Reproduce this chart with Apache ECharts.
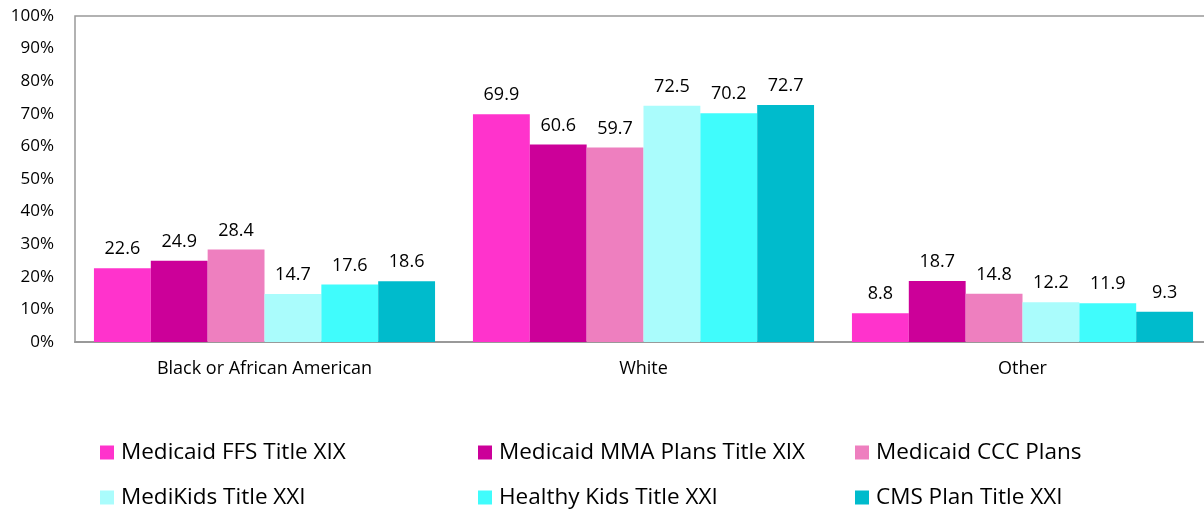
<!DOCTYPE html>
<html><head><meta charset="utf-8">
<script src="https://cdn.jsdelivr.net/npm/echarts@6/dist/echarts.min.js"></script>
<style>html,body{margin:0;padding:0;background:#fff}#c{width:1204px;height:513px}</style>
</head><body><div id="c"></div>
<script>
const categories = ['Black or African American', 'White', 'Other'];
const seriesNames = ['Medicaid FFS Title XIX', 'Medicaid MMA Plans Title XIX', 'Medicaid CCC Plans', 'MediKids Title XXI', 'Healthy Kids Title XXI', 'CMS Plan Title XXI'];
const ffs = [22.6, 69.9, 8.8];
const mma = [24.9, 60.6, 18.7];
const ccc = [28.4, 59.7, 14.8];
const medikids = [14.7, 72.5, 12.2];
const healthyKids = [17.6, 70.2, 11.9];
const cmsPlan = [18.6, 72.7, 9.3];
const yTicks = [0, 10, 20, 30, 40, 50, 60, 70, 80, 90, 100];

const colors = ['#FF33CC', '#CC0099', '#EE7FBF', '#AAFCFC', '#40FCFC', '#00BBCC'];
const seriesData = [ffs, mma, ccc, medikids, healthyKids, cmsPlan];
const font = '"Open Sans", sans-serif';

const chart = echarts.init(document.getElementById('c'));
const legendLefts = [95, 473, 850];
const legendTops = [436, 481];
const legends = seriesNames.map((n, i) => ({
  data: [n],
  left: legendLefts[i % 3], top: legendTops[Math.floor(i / 3)],
  itemWidth: 14, itemHeight: 14, icon: 'rect', itemGap: 0,
  textStyle: { fontFamily: font, fontSize: 22.5, color: '#000', padding: [0, 0, 0, 2] }
}));
chart.setOption({
  animation: false,
  color: colors,
  grid: { left: 75, width: 1137, top: 16, bottom: 171, show: true, borderColor: '#999', borderWidth: 1.5, outerBoundsMode: 'none' },
  legend: legends,
  xAxis: {
    type: 'category', data: categories,
    axisLine: { lineStyle: { color: '#999', width: 2 } },
    axisTick: { show: false },
    axisLabel: { fontFamily: font, fontSize: 18, color: '#000', margin: 18 }
  },
  yAxis: {
    type: 'value', min: 0, max: 100, interval: 10,
    axisLine: { show: false }, axisTick: { show: false }, splitLine: { show: false },
    axisLabel: { fontFamily: font, fontSize: 17, color: '#000', margin: 21,
      formatter: v => yTicks.includes(v) ? v + '%' : '' }
  },
  series: seriesNames.map((n, i) => ({
    name: n, type: 'bar', data: seriesData[i],
    barGap: '0%', barCategoryGap: '10%',
    label: { show: true, position: 'top', distance: 10, fontFamily: font, fontSize: 18, color: '#000',
      formatter: p => p.value.toFixed(1) }
  }))
});
</script></body></html>
